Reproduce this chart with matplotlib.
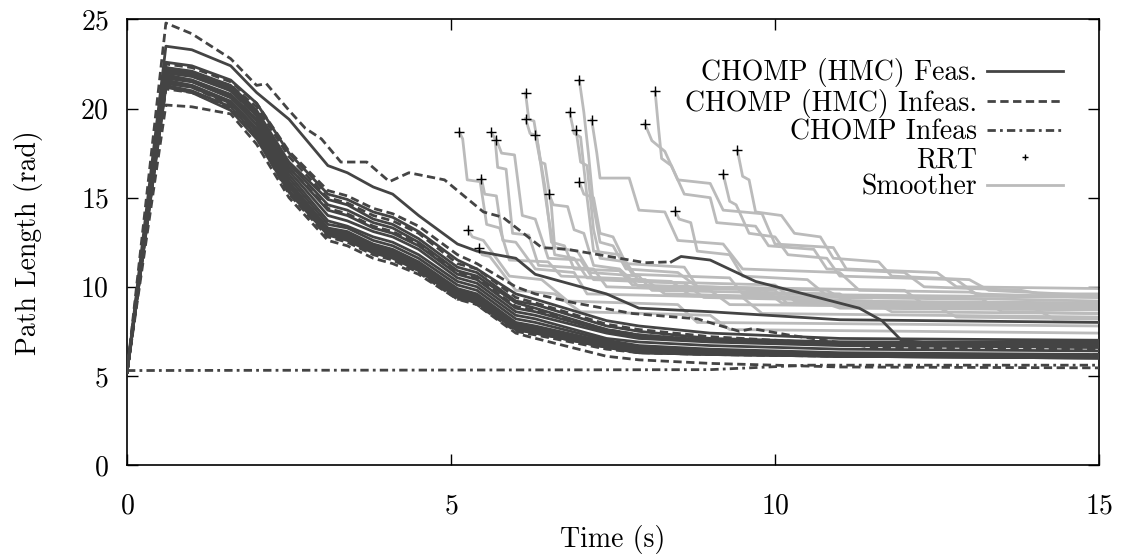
import matplotlib
matplotlib.use("Agg")
import matplotlib.pyplot as plt

plt.rcParams['font.family'] = ['cmr10', 'DejaVu Serif']
plt.rcParams['axes.formatter.use_mathtext'] = True
plt.rcParams['mathtext.fontset'] = 'cm'
plt.rcParams['font.size'] = 20

dark = '#444444'
light = '#bbbbbb'

# common time grid of the CHOMP (HMC) runs
t_hmc = [0, 0.6, 1.0, 1.6, 2.0, 2.5, 3.1, 3.4, 3.8, 4.1, 4.5, 5.1, 5.4, 6.0, 6.3, 7.4, 7.9, 9.0, 11.0, 15.0]

feas_runs = [
    [5.2, 23.5, 23.3, 22.4, 20.9, 19.4, 16.8, 16.4, 15.6, 15.2, 14.0, 12.4, 12.0, 11.6, 10.7, 9.6, 8.8, 8.6, 8.15, 8.0],
    [5.2, 22.6, 22.4, 21.6, 20.3, 17.5, 15.2, 14.9, 14.2, 13.9, 13.1, 11.5, 11.0, 9.6, 9.3, 8.1, 7.8, 7.4, 7.1, 7.0],
    [5.2, 22.2, 22.0, 21.2, 19.8, 16.9, 14.6, 14.3, 13.6, 13.3, 12.5, 10.9, 10.6, 9.1, 8.8, 7.6, 7.3, 7.0, 6.8, 6.7],
    [5.2, 22.0, 21.8, 21.0, 19.6, 16.5, 14.0, 13.7, 13.1, 12.8, 12.1, 10.5, 10.2, 8.6, 8.4, 7.4, 7.1, 6.9, 6.7, 6.6],
    [5.2, 21.9, 21.6, 20.7, 19.3, 16.1, 13.5, 13.3, 12.6, 12.3, 11.6, 10.1, 9.8, 8.2, 8.0, 7.0, 6.7, 6.5, 6.3, 6.2],
    [5.2, 21.7, 21.5, 20.6, 19.1, 15.9, 13.3, 13.1, 12.4, 12.1, 11.4, 9.9, 9.6, 8.0, 7.8, 6.9, 6.6, 6.4, 6.2, 6.1],
    [5.2, 21.6, 21.3, 20.4, 18.9, 15.7, 13.2, 12.9, 12.2, 11.9, 11.2, 9.7, 9.4, 7.8, 7.6, 6.8, 6.5, 6.3, 6.1, 6.0],
    [5.2, 21.4, 21.2, 20.3, 18.7, 15.6, 13.1, 12.8, 12.1, 11.8, 11.1, 9.6, 9.3, 7.7, 7.5, 6.7, 6.4, 6.3, 6.1, 6.0],
    [5.2, 21.3, 21.0, 20.1, 18.5, 15.4, 13.0, 12.7, 12.0, 11.7, 11.0, 9.5, 9.2, 7.6, 7.4, 6.6, 6.3, 6.2, 6.1, 6.0],
    [5.2, 21.2, 20.9, 19.9, 18.3, 15.3, 12.9, 12.6, 11.9, 11.6, 10.9, 9.4, 9.1, 7.6, 7.4, 6.6, 6.3, 6.2, 6.1, 6.1],
    [5.2, 22.3, 22.1, 21.3, 19.9, 17.0, 14.9, 14.6, 13.8, 13.5, 12.7, 11.1, 10.8, 9.2, 9.0, 7.8, 7.5, 7.1, 6.9, 6.9],
    [5.2, 21.8, 21.6, 20.8, 19.4, 16.3, 13.7, 13.4, 12.8, 12.5, 11.8, 10.3, 10.0, 8.4, 8.2, 7.1, 6.9, 6.7, 6.5, 6.4],
    [5.2, 22.1, 21.9, 21.1, 19.7, 16.7, 14.3, 14.0, 13.3, 13.0, 12.3, 10.7, 10.4, 8.8, 8.6, 7.5, 7.2, 7.0, 6.9, 6.8],
    [5.2, 21.5, 21.3, 20.4, 18.8, 15.8, 13.2, 13.0, 12.3, 12.0, 11.3, 9.8, 9.5, 7.9, 7.7, 6.8, 6.5, 6.3, 6.2, 6.1],
]

infeas_runs = [
    [5.2, 22.3, 22.0, 21.0, 19.6, 16.7, 14.4, 14.1, 13.4, 13.1, 12.4, 10.8, 10.5, 8.9, 8.7, 7.6, 7.3, 7.0, 6.8, 6.7],
    [5.2, 21.1, 20.9, 20.0, 18.4, 15.2, 12.8, 12.5, 11.8, 11.5, 10.8, 9.3, 9.0, 7.5, 7.3, 6.5, 6.3, 6.2, 6.1, 6.1],
    [5.2, 22.0, 21.9, 21.3, 20.1, 17.3, 15.0, 14.7, 14.0, 13.7, 13.0, 11.3, 11.0, 9.4, 9.1, 7.9, 7.6, 7.2, 6.8, 6.6],
    [5.2, 21.5, 21.2, 20.2, 18.6, 15.5, 13.0, 12.8, 12.1, 11.8, 11.1, 9.6, 9.3, 7.7, 7.5, 6.7, 6.4, 6.3, 6.2, 6.2],
]

# top run: infeasible until ~8.4 s, feasible afterwards
top_infeas_t = [0, 0.6, 1.0, 1.6, 2.0, 2.15, 2.5, 2.75, 3.0, 3.3, 3.7, 4.05, 4.35, 4.9, 5.5, 5.8, 6.4, 6.8, 8.0, 8.4]
top_infeas_y = [5.2, 24.8, 24.2, 22.8, 21.3, 21.4, 19.9, 18.9, 18.3, 17.0, 17.0, 15.9, 16.4, 16.0, 14.2, 13.9, 12.2, 12.1, 11.35, 11.4]
top_feas_t = [8.4, 8.55, 9.0, 9.7, 10.5, 11.3, 11.65, 11.95, 12.5, 15.0]
top_feas_y = [11.4, 11.7, 11.5, 10.3, 9.55, 8.8, 8.1, 7.0, 6.8, 6.7]

mid_infeas_t = [0, 0.6, 1.0, 1.6, 2.0, 2.5, 3.1, 3.4, 3.8, 4.1, 4.5, 5.1, 5.4, 6.0, 6.3, 6.9, 7.8, 8.8, 9.45, 9.65, 10.2, 11.5, 15.0]
mid_infeas_y = [5.2, 22.5, 22.3, 21.5, 20.3, 17.6, 15.4, 15.1, 14.4, 14.1, 13.4, 11.8, 11.3, 10.0, 9.6, 9.1, 8.5, 8.2, 7.5, 7.65, 7.3, 6.6, 6.5]

low_infeas_t = [0, 0.6, 1.0, 1.6, 2.0, 2.5, 3.1, 3.4, 3.8, 4.1, 4.5, 5.1, 5.3, 6.0, 6.2, 7.4, 7.9, 9.0, 11.0, 15.0]
low_infeas_y = [5.2, 20.2, 20.1, 19.7, 18.0, 15.0, 12.6, 12.3, 11.6, 11.3, 10.7, 9.3, 9.25, 7.4, 7.2, 6.1, 5.9, 5.7, 5.5, 5.45]

chomp_t = [0, 9.0, 10.5, 15.0]
chomp_y = [5.3, 5.35, 5.6, 5.6]

rrt_t = [5.13, 5.62, 5.70, 5.47, 5.26, 5.43, 6.15, 6.15, 6.30, 6.51,
         6.98, 6.83, 6.93, 7.17, 6.98, 8.15, 7.99, 8.46, 9.42, 9.20]
rrt_y = [18.67, 18.67, 18.26, 16.07, 13.2, 12.17, 20.88, 19.44, 18.54, 15.21,
         21.59, 19.81, 18.78, 19.38, 15.88, 20.96, 19.16, 14.27, 17.66, 16.33]

smooth_t = [
    [5.13, 5.18, 5.25, 5.45, 5.55, 5.75, 5.9, 6.5, 6.7, 8.0, 8.3, 10.5, 11.0, 15],
    [5.62, 5.68, 5.72, 5.85, 5.95, 6.2, 6.35, 7.2, 7.4, 9.0, 9.3, 12.5, 12.8, 15],
    [5.70, 5.78, 5.98, 6.1, 6.3, 6.5, 7.0, 7.2, 8.6, 8.9, 11.5, 11.8, 15],
    [5.47, 5.52, 5.7, 5.8, 6.0, 6.3, 6.9, 7.1, 9.5, 9.8, 15],
    [5.26, 5.33, 5.5, 5.9, 6.4, 6.8, 8.5, 8.8, 15],
    [5.43, 5.48, 5.6, 6.0, 6.6, 7.0, 9.0, 9.3, 15],
    [6.15, 6.2, 6.28, 6.45, 6.55, 6.75, 6.9, 7.6, 7.8, 9.8, 10.1, 15],
    [6.15, 6.22, 6.32, 6.5, 6.6, 6.9, 7.1, 8.4, 8.7, 13.2, 13.5, 15],
    [6.30, 6.38, 6.45, 6.55, 6.6, 6.95, 7.15, 7.9, 8.1, 11.0, 11.3, 15],
    [6.51, 6.58, 6.8, 6.9, 7.05, 7.2, 7.6, 7.9, 10.0, 10.2, 14.0, 14.3, 15],
    [6.98, 7.05, 7.12, 7.2, 7.3, 7.5, 7.7, 8.5, 8.8, 10.8, 11.1, 15],
    [6.83, 6.9, 7.0, 7.1, 7.2, 7.6, 7.8, 9.3, 9.5, 15],
    [6.93, 7.0, 7.1, 7.2, 7.3, 7.7, 7.9, 10.0, 10.3, 15],
    [7.17, 7.25, 7.3, 7.75, 7.9, 8.3, 8.5, 9.2, 9.5, 11.0, 11.3, 13.0, 13.3, 15],
    [6.98, 7.05, 7.2, 7.3, 7.5, 7.7, 8.6, 8.8, 12.0, 12.3, 15],
    [8.15, 8.2, 8.25, 8.4, 8.6, 9.0, 9.1, 9.7, 9.9, 10.6, 10.8, 12.0, 12.3, 13.8, 14.1, 15],
    [7.99, 8.1, 8.3, 8.5, 9.0, 9.2, 9.8, 10.0, 10.9, 11.1, 12.5, 12.8, 15],
    [8.46, 8.52, 8.7, 8.8, 9.3, 9.5, 10.5, 10.8, 15],
    [9.42, 9.5, 9.6, 9.7, 10.1, 10.3, 10.7, 10.9, 11.6, 11.8, 13.0, 13.3, 15],
    [9.20, 9.3, 9.4, 9.6, 10.0, 10.2, 10.8, 11.0, 12.8, 13.1, 15],
]
smooth_y = [
    [18.67, 18.3, 16.0, 15.9, 13.5, 13.3, 11.5, 11.4, 10.6, 10.4, 9.6, 9.4, 8.8, 8.7],
    [18.67, 18.3, 16.7, 16.6, 13.0, 12.9, 11.2, 11.0, 10.0, 9.8, 9.0, 8.9, 8.3, 8.2],
    [18.26, 17.5, 17.4, 14.0, 13.8, 11.6, 11.5, 10.4, 10.2, 9.4, 9.2, 8.6, 8.5],
    [16.07, 15.2, 15.1, 12.6, 12.5, 11.0, 10.8, 9.6, 9.4, 8.5, 8.3],
    [13.2, 12.8, 12.6, 10.6, 10.4, 9.2, 9.0, 8.0, 7.8],
    [12.17, 11.8, 11.7, 9.8, 9.6, 8.6, 8.4, 7.6, 7.4],
    [20.88, 19.4, 19.3, 15.6, 12.5, 12.3, 11.0, 10.9, 10.1, 9.9, 9.1, 8.9],
    [19.44, 18.6, 18.5, 14.0, 11.8, 11.6, 10.5, 10.3, 9.5, 9.3, 8.6, 8.5],
    [18.54, 17.0, 16.9, 14.5, 12.2, 12.0, 10.8, 10.6, 9.8, 9.6, 8.9, 8.8],
    [15.21, 14.6, 14.5, 13.2, 13.0, 11.2, 11.0, 10.0, 9.8, 9.0, 8.8, 8.2, 8.2],
    [21.59, 19.8, 17.5, 14.5, 12.5, 12.3, 11.0, 10.8, 10.0, 9.8, 9.2, 9.0],
    [19.81, 18.6, 18.4, 15.0, 12.0, 11.8, 10.7, 10.5, 9.6, 9.4],
    [18.78, 17.0, 16.8, 13.2, 11.6, 11.4, 10.3, 10.1, 9.2, 9.1],
    [19.38, 17.5, 16.1, 16.1, 14.3, 14.2, 12.6, 12.4, 11.0, 10.8, 9.8, 9.7, 9.5, 9.5],
    [15.88, 15.2, 15.0, 13.0, 12.8, 11.3, 11.1, 10.0, 9.8, 9.0, 8.9],
    [20.96, 19.0, 17.2, 16.8, 15.2, 15.0, 13.6, 13.4, 12.3, 12.1, 11.0, 10.8, 10.0, 9.8, 9.6, 9.6],
    [19.16, 18.2, 17.6, 16.0, 15.8, 14.3, 14.1, 12.4, 12.2, 11.0, 10.8, 10.0, 9.9],
    [14.27, 13.8, 13.6, 12.0, 11.8, 10.6, 10.4, 9.5, 9.2],
    [17.66, 16.2, 16.0, 14.2, 14.0, 13.0, 12.8, 11.6, 11.4, 10.6, 10.4, 9.8, 9.5],
    [16.33, 14.8, 14.6, 13.0, 12.8, 11.8, 11.6, 10.6, 10.4, 9.6, 9.4],
]

fig = plt.figure(figsize=(11.22, 5.55), dpi=100)
ax = fig.add_axes([0.1132, 0.1622, 0.8663, 0.8027])

lw = 2.0
dash = (3, 1.6)
dashdot = (3, 1.5, 1, 1.5)

for i in range(len(smooth_t)):
    h_smooth, = ax.plot(smooth_t[i], smooth_y[i], color=light, lw=lw, zorder=2)

for run in feas_runs:
    h_feas, = ax.plot(t_hmc, run, color=dark, lw=lw, zorder=3)
ax.plot(top_feas_t, top_feas_y, color=dark, lw=lw, zorder=3)

for run in infeas_runs:
    h_inf, = ax.plot(t_hmc, run, color=dark, lw=lw, dashes=dash, zorder=3)
ax.plot(top_infeas_t, top_infeas_y, color=dark, lw=lw, dashes=dash, zorder=3)
ax.plot(mid_infeas_t, mid_infeas_y, color=dark, lw=lw, dashes=dash, zorder=3)
ax.plot(low_infeas_t, low_infeas_y, color=dark, lw=lw, dashes=dash, zorder=3)

h_chomp, = ax.plot(chomp_t, chomp_y, color=dark, lw=lw, dashes=dashdot, zorder=3)

h_rrt, = ax.plot(rrt_t, rrt_y, ls='none', marker='+', ms=7.5, mew=1.0, color='black', zorder=4)

ax.set_xlim(0, 15)
ax.set_ylim(0, 25)
ax.set_xticks([0, 5, 10, 15])
ax.set_yticks([0, 5, 10, 15, 20, 25])
ax.tick_params(direction='in', length=8, width=1, top=True, right=True)
ax.tick_params(axis='x', pad=20)
ax.tick_params(axis='y', pad=13)
for s in ax.spines.values():
    s.set_linewidth(1.2)

ax.set_xlabel('Time (s)', labelpad=4)
ax.set_ylabel('Path Length (rad)', labelpad=27)

leg = ax.legend([h_feas, h_inf, h_chomp, h_rrt, h_smooth],
                ['CHOMP (HMC) Feas.', 'CHOMP (HMC) Infeas.', 'CHOMP Infeas', 'RRT', 'Smoother'],
                loc='upper right', bbox_to_anchor=(0.963, 0.913), borderaxespad=0,
                frameon=False, markerfirst=False, handlelength=2.75, handletextpad=0.35,
                labelspacing=0.05, borderpad=0)
for h in leg.legend_handles:
    if h.get_marker() == '+':
        h.set_markersize(5)

fig.savefig('out.png', dpi=100)
